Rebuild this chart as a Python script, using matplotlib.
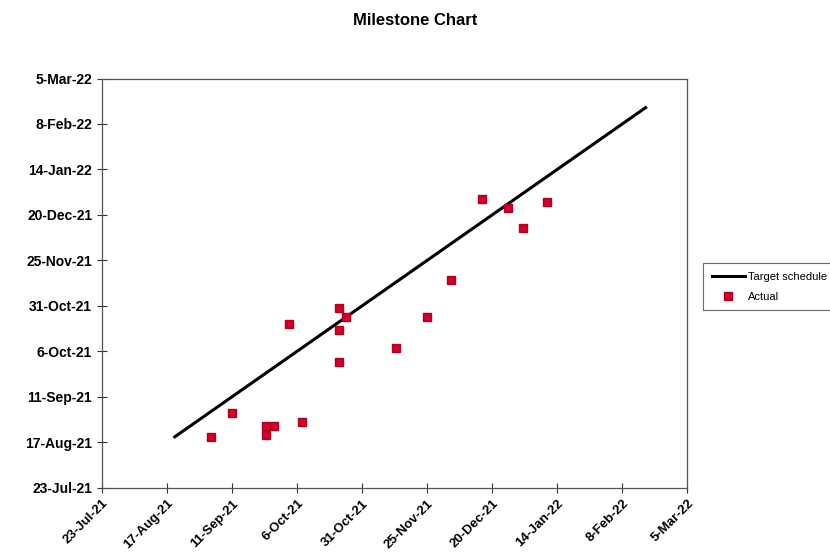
import matplotlib
matplotlib.use("Agg")
import matplotlib.pyplot as plt
import matplotlib.dates as mdates
import pandas as pd

plt.rcParams['font.family'] = ['Liberation Sans', 'DejaVu Sans']

# target schedule: planned date == forecast date
target_start = "2021-08-20"
target_end = "2022-02-17"

# actual milestones (planned date, actual date)
actual_planned = ["2021-09-03", "2021-09-11", "2021-09-24", "2021-09-24", "2021-09-27",
                  "2021-10-08", "2021-10-03", "2021-10-22", "2021-10-22", "2021-10-22",
                  "2021-10-25", "2021-11-13", "2021-11-25", "2021-12-04", "2021-12-16",
                  "2021-12-26", "2022-01-01", "2022-01-10"]
actual_done = ["2021-08-20", "2021-09-02", "2021-08-26", "2021-08-21", "2021-08-26",
               "2021-08-28", "2021-10-21", "2021-10-30", "2021-10-18", "2021-09-30",
               "2021-10-25", "2021-10-08", "2021-10-25", "2021-11-14", "2021-12-29",
               "2021-12-24", "2021-12-13", "2021-12-27"]

tick_dates = pd.date_range("2021-07-23", periods=10, freq="25D")

fig = plt.figure(figsize=(8.3, 5.53), dpi=100)
ax = fig.add_axes([0.1228, 0.118, 0.7052, 0.740])

tgt = pd.to_datetime([target_start, target_end])
ax.plot(tgt, tgt, color="black", lw=2.2, label="Target schedule")
ax.plot(pd.to_datetime(actual_planned), pd.to_datetime(actual_done), ls="none",
        marker="s", ms=6, color="#d0002a", mec="#b00020", label="Actual")

ax.set_xlim(tick_dates[0], tick_dates[-1])
ax.set_ylim(tick_dates[0], tick_dates[-1])
ax.set_xticks(tick_dates)
ax.set_yticks(tick_dates)
fmt = lambda x, pos: mdates.num2date(x).strftime("%-d-%b-%y")
ax.xaxis.set_major_formatter(plt.FuncFormatter(fmt))
ax.yaxis.set_major_formatter(plt.FuncFormatter(fmt))
ax.tick_params(direction="inout", length=7, width=0.8, colors="#333333",
               labelsize=10, labelcolor="black")
ax.tick_params(axis="x", labelsize=9.5)
for lab in ax.get_xticklabels():
    lab.set_rotation(45)
    lab.set_ha("right")
    lab.set_rotation_mode("anchor")
    lab.set_fontweight("bold")
for lab in ax.get_yticklabels():
    lab.set_fontweight("bold")
for sp in ax.spines.values():
    sp.set_color("#555555")
    sp.set_linewidth(0.9)

fig.suptitle("Milestone Chart", x=0.5, y=0.977, fontsize=12, fontweight="bold")

leg = ax.legend(loc="upper left", bbox_to_anchor=(0.840, 0.535),
                bbox_transform=fig.transFigure, fontsize=8, frameon=True,
                fancybox=False, edgecolor="#444444", handlelength=3.0,
                borderpad=0.8, labelspacing=0.9, handletextpad=0.3)
leg.get_frame().set_linewidth(0.8)

fig.savefig("out.png", dpi=100)
